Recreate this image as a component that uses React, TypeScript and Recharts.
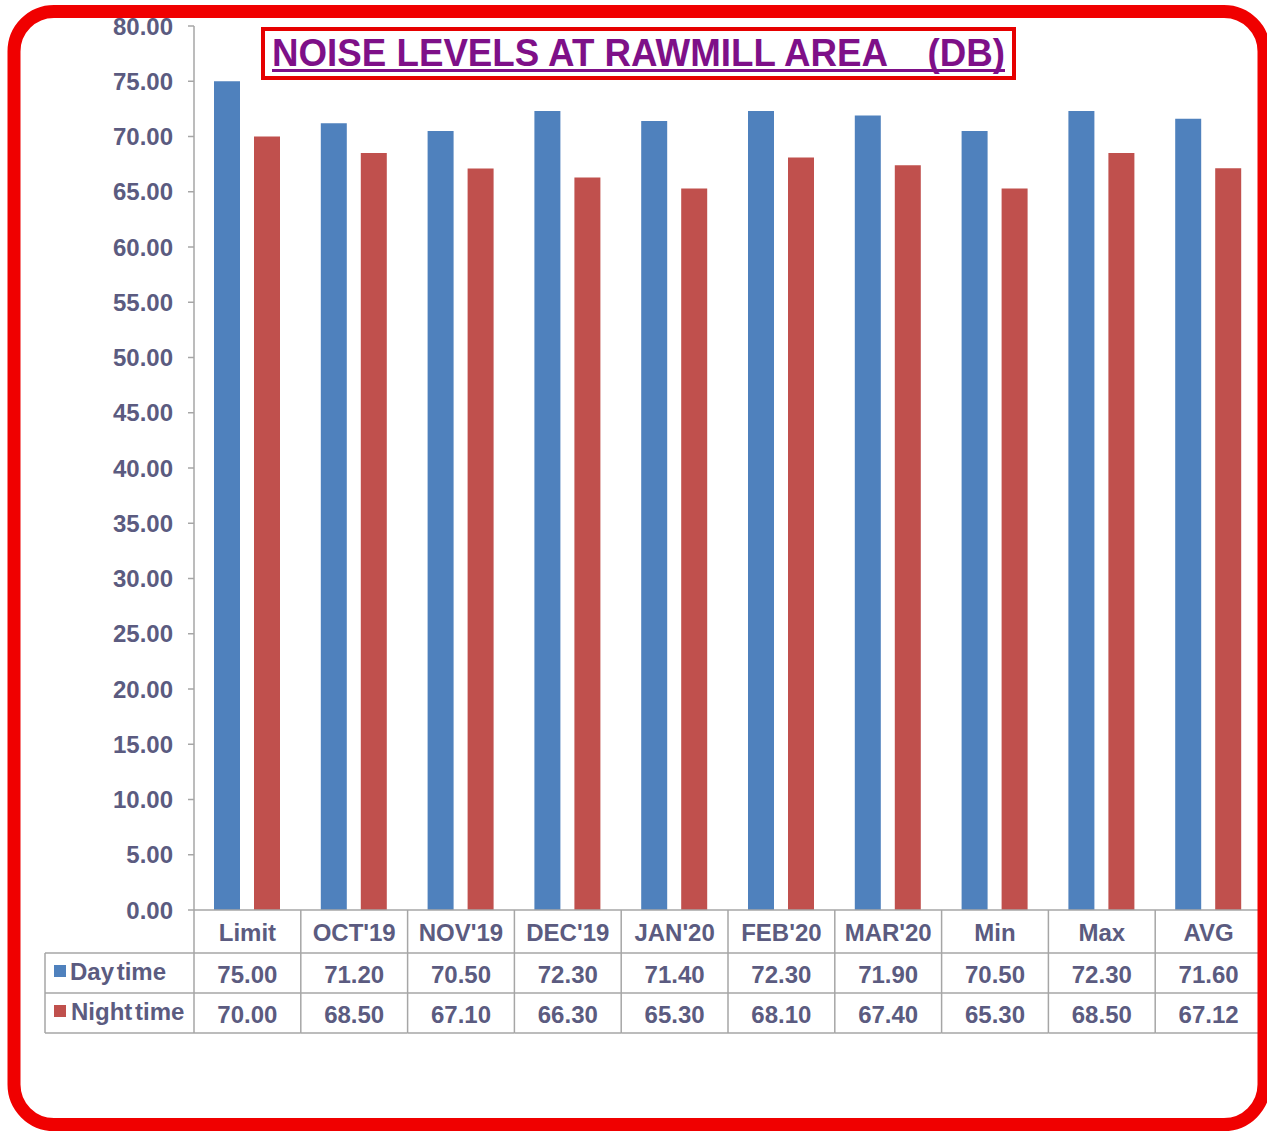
import React from 'react';
import { BarChart, Bar, XAxis, YAxis } from 'recharts';

const categories = ['Limit', "OCT'19", "NOV'19", "DEC'19", "JAN'20", "FEB'20", "MAR'20", 'Min', 'Max', 'AVG'];
const dayTime = [75.0, 71.2, 70.5, 72.3, 71.4, 72.3, 71.9, 70.5, 72.3, 71.6];
const nightTime = [70.0, 68.5, 67.1, 66.3, 65.3, 68.1, 67.4, 65.3, 68.5, 67.12];
const yTicks = [0, 5, 10, 15, 20, 25, 30, 35, 40, 45, 50, 55, 60, 65, 70, 75, 80];
const seriesNames = ['Day time', 'Night time'];

const W = 1267;
const H = 1131;
const PLOT_LEFT = 194;
const PLOT_RIGHT = 5;
const BAND = (W - PLOT_LEFT - PLOT_RIGHT) / categories.length;
const FONT = '"Liberation Sans", Arial, sans-serif';
const TEXT = '#5B5B80';
const GRID = '#A6A6A6';
const BLUE = '#4F81BD';
const RED = '#C0504D';

const data = categories.map((name, i) => ({ name, day: dayTime[i], night: nightTime[i] }));

function TableTick(props: any) {
  const { x, y, payload, index } = props;
  const left = x - BAND / 2;
  const right = x + BAND / 2;
  const txt = { fontFamily: FONT, fontWeight: 700, fontSize: 24, fill: TEXT };
  return (
    <g>
      {index === 0 && (
        <g>
          <line x1={left} y1={y} x2={left} y2={y + 123} stroke={GRID} strokeWidth={1.5} />
          <line x1={45} y1={y + 43} x2={left} y2={y + 43} stroke={GRID} strokeWidth={1.5} />
          <line x1={45} y1={y + 83} x2={left} y2={y + 83} stroke={GRID} strokeWidth={1.5} />
          <line x1={45} y1={y + 123} x2={left} y2={y + 123} stroke={GRID} strokeWidth={1.5} />
          <line x1={45} y1={y + 43} x2={45} y2={y + 123} stroke={GRID} strokeWidth={1.5} />
          <rect x={54} y={y + 55} width={12} height={12} fill={BLUE} />
          <rect x={54} y={y + 95} width={12} height={12} fill={RED} />
          <text x={70} y={y + 70} {...txt} wordSpacing={-4}>{seriesNames[0]}</text>
          <text x={71} y={y + 110} {...txt} wordSpacing={-4}>{seriesNames[1]}</text>
        </g>
      )}
      <line x1={right} y1={y} x2={right} y2={y + 123} stroke={GRID} strokeWidth={1.5} />
      <line x1={left} y1={y + 43} x2={right} y2={y + 43} stroke={GRID} strokeWidth={1.5} />
      <line x1={left} y1={y + 83} x2={right} y2={y + 83} stroke={GRID} strokeWidth={1.5} />
      <line x1={left} y1={y + 123} x2={right} y2={y + 123} stroke={GRID} strokeWidth={1.5} />
      <text x={x} y={y + 31} textAnchor="middle" {...txt}>{payload.value}</text>
      <text x={x} y={y + 73} textAnchor="middle" {...txt}>{dayTime[index].toFixed(2)}</text>
      <text x={x} y={y + 113} textAnchor="middle" {...txt}>{nightTime[index].toFixed(2)}</text>
    </g>
  );
}

export default function App() {
  return (
    <div style={{ position: 'absolute', left: 0, top: 0, width: W, height: H, background: '#fff', fontFamily: FONT }}>
      <div style={{ position: 'absolute', left: 0, top: 0 }}>
        <BarChart
          width={W}
          height={H}
          data={data}
          margin={{ top: 26, right: PLOT_RIGHT, bottom: 91, left: PLOT_LEFT - 80 }}
          barCategoryGap={20}
          barGap={14}
        >
          <XAxis
            dataKey="name"
            height={130}
            interval={0}
            tickLine={false}
            tickSize={0}
            tickMargin={0}
            axisLine={{ stroke: GRID, strokeWidth: 1.5 }}
            tick={<TableTick />}
          />
          <YAxis
            width={80}
            domain={[0, 80]}
            ticks={yTicks}
            interval={0}
            tickSize={6}
            tickMargin={15}
            tickFormatter={(v: number) => v.toFixed(2)}
            axisLine={{ stroke: GRID, strokeWidth: 1.5 }}
            tickLine={{ stroke: GRID, strokeWidth: 1.5 }}
            tick={{ fontFamily: FONT, fontWeight: 700, fontSize: 24, fill: TEXT }}
          />
          <Bar dataKey="day" name={seriesNames[0]} fill={BLUE} isAnimationActive={false} />
          <Bar dataKey="night" name={seriesNames[1]} fill={RED} isAnimationActive={false} />
        </BarChart>
      </div>
      <svg width={W} height={H} style={{ position: 'absolute', left: 0, top: 0, pointerEvents: 'none' }}>
        <rect x={263} y={29} width={751} height={49} fill="#fff" stroke="#E60000" strokeWidth={4} />
        <text
          x={272}
          y={66}
          textLength={733}
          lengthAdjust="spacingAndGlyphs"
          style={{ fontFamily: FONT, fontWeight: 700, fontSize: 38, fill: '#7E1088', whiteSpace: 'pre' }}
        >
          NOISE LEVELS AT RAWMILL AREA    (DB)
        </text>
        <rect x={272} y={69} width={733} height={3} fill="#7E1088" />
        <rect x={14} y={11.5} width={1250} height={1113} rx={40} ry={40} fill="none" stroke="#F00000" strokeWidth={13} />
      </svg>
    </div>
  );
}
